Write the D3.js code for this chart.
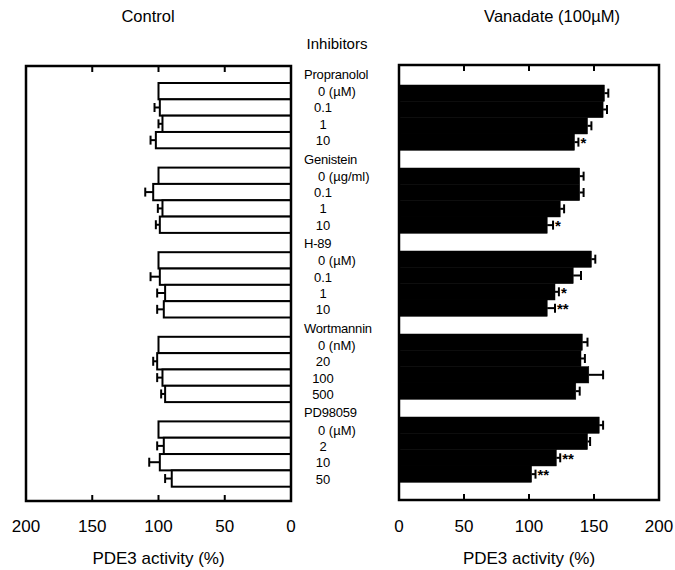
<!DOCTYPE html>
<html>
<head>
<meta charset="utf-8">
<script src="https://cdn.jsdelivr.net/npm/d3@7"></script>
<style>
  body { margin: 0; background: #fff; }
  svg text { font-family: "Liberation Sans", Arial, sans-serif; fill: #000; }
</style>
</head>
<body>
<svg id="chart" width="675" height="570"></svg>
<script>
// inhibitor groups and their doses
var groups = ["Propranolol", "Genistein", "H-89", "Wortmannin", "PD98059"];
var doses = [
  ["0 (\u00b5M)", "0.1", "1", "10"],
  ["0 (\u00b5g/ml)", "0.1", "1", "10"],
  ["0 (\u00b5M)", "0.1", "1", "10"],
  ["0 (nM)", "20", "100", "500"],
  ["0 (\u00b5M)", "2", "10", "50"]
];
// PDE3 activity (%), control
var controlMean = [100, 99, 97, 102, 100, 104, 97, 99, 100, 99, 95, 96, 100, 101, 97, 95, 100, 96, 99, 90];
var controlErr  = [0, 4, 3, 4, 0, 6, 3.5, 3, 0, 7, 6, 5, 0, 3, 4, 3, 0, 5, 8, 5];
// PDE3 activity (%), vanadate 100uM
var vanMean = [158, 157, 145, 135, 139, 139, 124, 114, 148, 134, 120, 114, 141, 140, 146, 136, 154, 145, 121, 102];
var vanErr  = [3, 3, 3, 3, 3, 3, 3, 4.5, 3, 6, 3, 6, 4, 3, 11, 3, 3, 2, 3, 3];
var vanSig  = ["", "", "", "*", "", "", "", "*", "", "", "*", "**", "", "", "", "", "", "", "**", "**"];
var ticks = [0, 50, 100, 150, 200];

var svg = d3.select("#chart");

var rows = [];
groups.forEach(function(g, gi) {
  doses[gi].forEach(function(d, di) {
    var i = gi * 4 + di;
    rows.push({g: g, gi: gi, di: di, dose: d,
      cm: controlMean[i], ce: controlErr[i],
      vm: vanMean[i], ve: vanErr[i], sig: vanSig[i]});
  });
});

function panel(opt) {
  var x = d3.scaleLinear().domain([0, 200]).range(opt.xRange);
  var yG = d3.scaleBand().domain(groups).range(opt.yRange);
  var yB = d3.scaleBand().domain([0, 1, 2, 3]).range([0, 65.3]);
  var yOf = function(d) { return yG(d.g) + yB(d.di); };
  var g = svg.append("g");

  // bars
  g.selectAll("rect.bar").data(rows).enter().append("rect")
    .attr("class", "bar")
    .attr("x", function(d) { return Math.min(x(0), x(opt.val(d))); })
    .attr("y", yOf)
    .attr("width", function(d) { return Math.abs(x(opt.val(d)) - x(0)); })
    .attr("height", yB.bandwidth())
    .attr("fill", opt.fill)
    .attr("stroke", "#000")
    .attr("stroke-width", opt.fill === "#fff" ? 2 : 0.5);

  // error bars
  var eb = g.selectAll("g.err").data(rows.filter(function(d) { return opt.err(d) > 0; }))
    .enter().append("g").attr("class", "err");
  eb.append("line")
    .attr("x1", function(d) { return x(opt.val(d)); })
    .attr("x2", function(d) { return x(opt.val(d) + opt.err(d)); })
    .attr("y1", function(d) { return yOf(d) + yB.bandwidth() / 2; })
    .attr("y2", function(d) { return yOf(d) + yB.bandwidth() / 2; })
    .attr("stroke", "#000").attr("stroke-width", 2);
  eb.append("line")
    .attr("x1", function(d) { return x(opt.val(d) + opt.err(d)); })
    .attr("x2", function(d) { return x(opt.val(d) + opt.err(d)); })
    .attr("y1", function(d) { return yOf(d) + yB.bandwidth() / 2 - 4.5; })
    .attr("y2", function(d) { return yOf(d) + yB.bandwidth() / 2 + 4.5; })
    .attr("stroke", "#000").attr("stroke-width", 2);

  // significance marks
  if (opt.sig) {
    g.selectAll("text.sig").data(rows.filter(function(d) { return d.sig; }))
      .enter().append("text").attr("class", "sig")
      .attr("x", function(d) { return x(opt.val(d) + opt.err(d)) + 2; })
      .attr("y", function(d) { return yOf(d) + yB.bandwidth() / 2 + 6; })
      .attr("font-size", 15).attr("font-weight", "bold")
      .text(function(d) { return d.sig; });
  }

  // frame
  var top = opt.frame[0], bottom = opt.frame[1];
  g.append("rect")
    .attr("x", d3.min(opt.xRange)).attr("y", top)
    .attr("width", Math.abs(opt.xRange[1] - opt.xRange[0])).attr("height", bottom - top)
    .attr("fill", "none").attr("stroke", "#000").attr("stroke-width", 2.5);

  // inward ticks top and bottom
  var inner = [50, 100, 150];
  g.selectAll("line.tt").data(inner).enter().append("line")
    .attr("x1", x).attr("x2", x).attr("y1", top).attr("y2", top + 6)
    .attr("stroke", "#000").attr("stroke-width", 2);
  g.selectAll("line.tb").data(inner).enter().append("line")
    .attr("x1", x).attr("x2", x).attr("y1", bottom).attr("y2", bottom - 6)
    .attr("stroke", "#000").attr("stroke-width", 2);

  // tick labels
  g.selectAll("text.tl").data(ticks).enter().append("text")
    .attr("x", x).attr("y", 532)
    .attr("text-anchor", "middle").attr("font-size", 17)
    .text(function(d) { return d; });

  g.append("text")
    .attr("x", (opt.xRange[0] + opt.xRange[1]) / 2).attr("y", 564)
    .attr("text-anchor", "middle").attr("font-size", 17)
    .text("PDE3 activity (%)");

  g.append("text")
    .attr("x", opt.titleX).attr("y", 22)
    .attr("text-anchor", "middle").attr("font-size", 16.5)
    .text(opt.title);

  return {yG: yG, yB: yB};
}

var left = panel({
  xRange: [291, 26], yRange: [83, 506], frame: [66, 501],
  val: function(d) { return d.cm; }, err: function(d) { return d.ce; },
  fill: "#fff", sig: false, title: "Control", titleX: 148
});
panel({
  xRange: [399, 659], yRange: [85, 500], frame: [65, 500],
  val: function(d) { return d.vm; }, err: function(d) { return d.ve; },
  fill: "#000", sig: true, title: "Vanadate (100\u00b5M)", titleX: 552
});

// middle labels
svg.append("text").attr("x", 337).attr("y", 49)
  .attr("text-anchor", "middle").attr("font-size", 15).text("Inhibitors");

var mid = svg.append("g").attr("font-size", 13);
mid.selectAll("text.grp").data(groups).enter().append("text")
  .attr("x", 304)
  .attr("y", function(d) { return left.yG(d) - 4; })
  .attr("letter-spacing", -0.2)
  .text(function(d) { return d; });
mid.selectAll("text.dose").data(rows).enter().append("text")
  .attr("x", function(d) { return d.di === 0 ? 318 : 323; })
  .attr("y", function(d) { return left.yG(d.g) + left.yB(d.di) + left.yB.bandwidth() / 2 + 5; })
  .attr("text-anchor", function(d) { return d.di === 0 ? "start" : "middle"; })
  .text(function(d) { return d.dose; });
</script>
</body>
</html>
